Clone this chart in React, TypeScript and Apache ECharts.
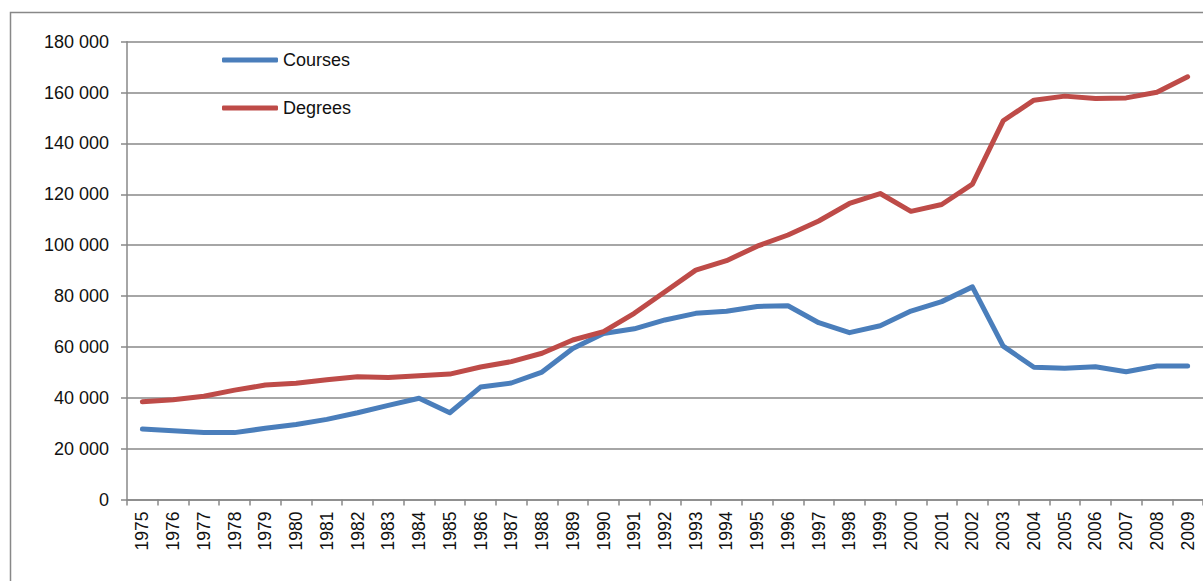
import React, { useEffect, useRef } from "react";
import * as echarts from "echarts";

const years = [
  "1975", "1976", "1977", "1978", "1979", "1980", "1981", "1982", "1983", "1984",
  "1985", "1986", "1987", "1988", "1989", "1990", "1991", "1992", "1993", "1994",
  "1995", "1996", "1997", "1998", "1999", "2000", "2001", "2002", "2003", "2004",
  "2005", "2006", "2007", "2008", "2009",
];

const courses = [
  27700, 27000, 26300, 26300, 28000, 29500, 31500, 34100, 37000, 39800,
  34100, 44200, 45800, 50100, 59400, 65300, 67100, 70600, 73200, 74000,
  75900, 76200, 69500, 65600, 68300, 74100, 77800, 83600, 60300, 52000,
  51600, 52200, 50200, 52500, 52500,
];

const degrees = [
  38400, 39200, 40600, 43000, 45000, 45700, 47100, 48300, 48000, 48700,
  49300, 52100, 54200, 57500, 62700, 66000, 73200, 81700, 90200, 93900,
  99600, 104000, 109500, 116400, 120300, 113300, 116000, 124000, 148900, 157000,
  158600, 157700, 157900, 160100, 166200,
];

const seriesNames = ["Courses", "Degrees"];

const FONT = "'Liberation Sans', Arial, sans-serif";

export default function App() {
  const ref = useRef<HTMLDivElement>(null);

  useEffect(() => {
    if (!ref.current) return;
    const chart = echarts.init(ref.current, null, { renderer: "svg" });
    const gray = "#888888";
    chart.setOption({
      animation: false,
      backgroundColor: "#ffffff",
      graphic: [
        {
          type: "rect",
          shape: { x: 10.5, y: 12.5, width: 1400, height: 800 },
          style: { fill: "none", stroke: gray, lineWidth: 1.5 },
          silent: true,
          z: -10,
        },
      ],
      legend: {
        orient: "vertical",
        left: 222,
        top: 51,
        padding: 0,
        icon: "roundRect",
        itemWidth: 56,
        itemHeight: 5,
        itemGap: 30,
        data: seriesNames,
        textStyle: { fontFamily: FONT, fontSize: 18, color: "#111", padding: [0, 0, 0, 0] },
      },
      grid: { left: 127, top: 41.7, width: 1081, bottom: 81.5, containLabel: false },
      xAxis: {
        type: "category",
        data: years,
        boundaryGap: true,
        axisLine: { show: true, lineStyle: { color: gray, width: 1.5 } },
        axisTick: { show: true, length: 6, lineStyle: { color: gray, width: 1.5 } },
        axisLabel: {
          rotate: 90,
          interval: 0,
          margin: 12,
          fontFamily: FONT,
          fontSize: 17.5,
          color: "#111",
        },
        splitLine: { show: false },
      },
      yAxis: {
        type: "value",
        min: 0,
        max: 180000,
        interval: 20000,
        axisLine: { show: true, lineStyle: { color: gray, width: 1.5 } },
        axisTick: { show: true, length: 6, lineStyle: { color: gray, width: 1.5 } },
        axisLabel: {
          margin: 18,
          fontFamily: FONT,
          fontSize: 18,
          color: "#111",
          formatter: (v: number) => (v === 0 ? "0" : `${v / 1000} 000`),
        },
        splitLine: { show: true, lineStyle: { color: gray, width: 1.5 } },
      },
      series: [
        {
          name: seriesNames[0],
          type: "line",
          data: courses,
          symbol: "none",
          lineStyle: { color: "#4A7EBB", width: 5, cap: "round", join: "round" },
          itemStyle: { color: "#4A7EBB" },
        },
        {
          name: seriesNames[1],
          type: "line",
          data: degrees,
          symbol: "none",
          lineStyle: { color: "#BE4B48", width: 5, cap: "round", join: "round" },
          itemStyle: { color: "#BE4B48" },
        },
      ],
    });
    return () => chart.dispose();
  }, []);

  return (
    <div
      ref={ref}
      style={{ position: "fixed", left: 0, top: 0, width: 1203, height: 581, background: "#fff" }}
    />
  );
}
